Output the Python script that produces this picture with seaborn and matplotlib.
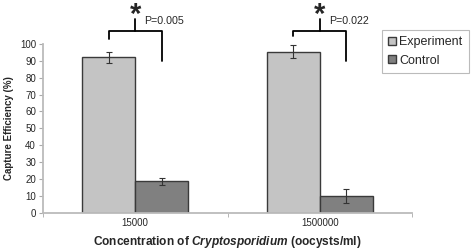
import numpy as np
import pandas as pd
import matplotlib
matplotlib.use("Agg")
import matplotlib.pyplot as plt
import seaborn as sns

# Données
concentrations = ["15000", "1500000"]
groupes = ["Experiment", "Control"]
experiment = [92, 95.5]
control = [18.5, 10]
err_experiment = [3, 4]
err_control = [2, 4]
p_values = ["P=0.005", "P=0.022"]

df = pd.DataFrame({
    "conc": concentrations * 2,
    "groupe": [groupes[0]] * 2 + [groupes[1]] * 2,
    "eff": experiment + control,
})
erreurs = err_experiment + err_control

sns.set_style("white")
plt.rcParams["font.family"] = ["Liberation Sans", "DejaVu Sans"]
plt.rcParams["mathtext.fontset"] = "custom"
plt.rcParams["mathtext.bfit"] = "Liberation Sans:bold:italic"
plt.rcParams["mathtext.bf"] = "Liberation Sans:bold"
plt.rcParams["mathtext.rm"] = "Liberation Sans:bold"

fig = plt.figure(figsize=(4.72, 2.49), dpi=100)
ax = fig.add_axes([43 / 472, 1 - 212.7 / 249, (412 - 43) / 472, (212.7 - 44) / 249])

sns.barplot(data=df, x="conc", y="eff", hue="groupe", hue_order=groupes,
            palette=["#c4c4c4", "#808080"], width=0.575, gap=0,
            edgecolor="#3a3a3a", linewidth=1.0, errorbar=None, ax=ax)

# barres d'erreur au centre de chaque barre
patches = [p for p in ax.patches if p.get_height() > 0]
patches = sorted(patches, key=lambda p: (p.get_facecolor()[0] < 0.6, p.get_x()))
xs = [p.get_x() + p.get_width() / 2 for p in patches]
hs = [p.get_height() for p in patches]
ax.errorbar(xs, hs, yerr=erreurs, fmt="none", ecolor="#333333",
            elinewidth=0.8, capsize=2, capthick=0.8, zorder=5)

ax.set_ylim(0, 100)
ax.set_xlim(-0.5, 1.5)
ax.set_yticks(range(0, 101, 10))
ax.tick_params(axis="y", labelsize=7, length=3, color="#aaaaaa", direction="out", pad=2, left=True)
ax.set_xticks([0, 1])
ax.set_xticks([-0.5, 0.5, 1.5], minor=True)
ax.tick_params(axis="x", which="major", length=0, labelsize=7, pad=4)
ax.tick_params(axis="x", which="minor", length=3, color="#aaaaaa", bottom=True)
for s in ["top", "right"]:
    ax.spines[s].set_visible(False)
for s in ["left", "bottom"]:
    ax.spines[s].set_color("#bbbbbb")
    ax.spines[s].set_linewidth(1.3)

ax.set_ylabel("Capture Efficiency (%)", fontsize=7, fontweight="bold", labelpad=4)
ax.set_xlabel(r"Concentration of $\mathbfit{Cryptosporidium}$ (oocysts/ml)",
              fontsize=8.6, fontweight="bold", labelpad=4)

# crochets de significativité
jambe_gauche = [103, 105]
for i in range(2):
    x1, x2 = xs[i], xs[i + 2]
    xm = (x1 + x2) / 2
    ax.plot([x1, x1, x2, x2], [jambe_gauche[i], 108, 108, 90], color="black",
            lw=1.3, clip_on=False)
    ax.plot([xm, xm], [108, 115], color="black", lw=1.3, clip_on=False)
    ax.text(xm, 126, r"$\mathbf{*}$", fontsize=21, ha="center", va="top",
            clip_on=False)
    ax.text(xm + 0.05, 113.5, p_values[i], fontsize=7.7, ha="left", va="center")

leg = ax.legend(loc="upper left", bbox_to_anchor=(382 / 472, 1 - 30 / 249),
                bbox_transform=fig.transFigure, fontsize=9, frameon=True,
                fancybox=False, edgecolor="#aaaaaa", handlelength=0.6,
                handleheight=0.6, handletextpad=0.3, labelspacing=0.5,
                borderpad=0.5, borderaxespad=0)
leg.get_frame().set_linewidth(0.8)

fig.savefig("out.png", dpi=100)
